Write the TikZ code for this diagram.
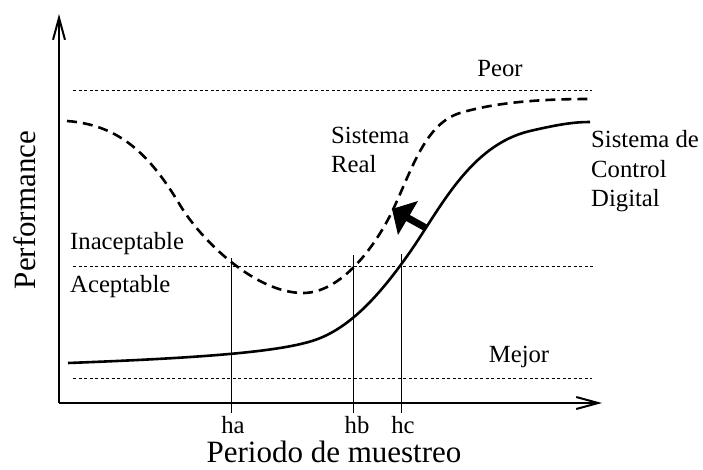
\documentclass[tikz,border=0pt]{standalone}
\usepackage{fontspec}
\setmainfont{Liberation Serif}
\usepackage{tikz}
\usetikzlibrary{arrows.meta, positioning}

\begin{document}
\begin{tikzpicture}[x=1pt, y=-1pt,
  eje/.style={line width=2pt, -{Straight Barb[length=22pt,width=12pt]}},
  limite/.style={line width=1pt, dash pattern=on 3pt off 2.5pt},
  real/.style={line width=2.6pt, dash pattern=on 10pt off 6pt},
  digital/.style={line width=2.6pt},
  marca/.style={line width=1pt},
  etiq/.style={inner sep=0pt, font=\fontsize{24.7}{29.5}\selectfont},
  titulo/.style={inner sep=0pt, text depth=0pt, font=\fontsize{31}{36}\selectfont}]
\useasboundingbox (0,0) rectangle (703,470);
\coordinate (origen) at (59,403);
\coordinate (ytop) at (59,14);
\coordinate (xend) at (602,403);
\draw[eje] (origen) -- (ytop);
\draw[eje] (origen) -- (xend);
\draw[limite] (73,91) -- (592,91);
\draw[limite] (73,266) -- (595,266);
\draw[limite] (73,378) -- (592,378);
\draw[real] (67,121) .. controls (120,125) and (150,155) .. (180,205)
  .. controls (201,240) and (255,293) .. (303,293)
  .. controls (335,293) and (365,260) .. (385,225)
  .. controls (408,185) and (420,125) .. (460,113)
  .. controls (500,101) and (550,99) .. (590,99);
\draw[digital] (68,363) .. controls (200,358) and (280,352) .. (315,340)
  .. controls (350,328) and (380,295) .. (410,252)
  .. controls (440,209) and (470,145) .. (530,131)
  .. controls (560,124) and (575,122) .. (590,122);
\coordinate (ha-top) at (231,258);
\coordinate (hb-top) at (353,255);
\coordinate (hc-top) at (401,254);
\node[etiq, anchor=base] (ha) at (233,433) {ha};
\node[etiq, anchor=base] (hb) at (357,433) {hb};
\node[etiq, anchor=base] (hc) at (403,433) {hc};
\draw[marca] (ha-top) -- (ha-top |- 0,413);
\draw[marca] (hb-top) -- (hb-top |- 0,413);
\draw[marca] (hc-top) -- (hc-top |- 0,413);
\fill (392,209) -- (418,201) -- (409.8,215) -- (427.8,225) -- (424.2,231) -- (406.2,221) -- (398,235) -- cycle;
\node[etiq, anchor=base] (peor) at (500,77) {Peor};
\node[etiq, anchor=base] (mejor) at (519,362) {Mejor};
\node[etiq, anchor=base west] (inacep) at (70,249) {Inaceptable};
\node[etiq, anchor=base west] (acep) at (70,292) {Aceptable};
\node[etiq, anchor=base west, align=left] (sreal) at (331,173) {Sistema\\Real};
\node[etiq, anchor=base west, align=left] (sdig) at (591,207) {Sistema de\\Control\\Digital};
\node[titulo, anchor=base] (xlab) at (334,462) {Periodo de muestreo};
\node[titulo, anchor=base, rotate=90] (ylab) at (35,210) {Performance};
\end{tikzpicture}
\end{document}
